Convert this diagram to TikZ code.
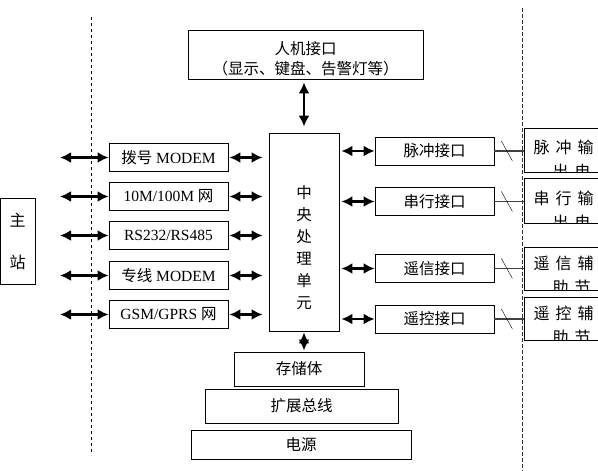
\documentclass[tikz,border=0pt]{standalone}
\usepackage{fontspec}
\setmainfont{Liberation Serif}
\newfontfamily\cjk{Noto Sans CJK SC}
\usetikzlibrary{arrows.meta}

\tikzset{
  box/.style={draw, line width=0.8pt, rectangle, inner sep=0pt},
  zh/.style={font=\cjk\fontsize{15.5}{18}\selectfont},
  link/.style={<->, line width=2.5pt},
  tie/.style={line width=1.8pt, black!75},
  outtext/.style={anchor=west, font=\cjk\fontsize{16}{19}\selectfont},
}

\begin{document}
\begin{tikzpicture}[x=1pt, y=-1pt, >={Latex[length=11pt,width=11pt]},
  every node/.style={font=\fontsize{15.5}{18}\selectfont}]
  \clip (0,0) rectangle (598,471);
  % --- Skillelinjer ---
  \draw[dashed, line width=0.7pt] (91,17) -- (91,455);
  \draw[dash pattern=on 4pt off 2pt, line width=0.7pt, black!80] (522,8) -- (522,471);

  % --- Hovedstasjon ---
  \node[box, minimum width=35, minimum height=86, align=center, font=\cjk\fontsize{16}{18}\selectfont]
    (zz) at (17.5,241) {主\\[24pt]站};

  % --- Kommunikasjon (venstre) ---
  \node[box, minimum width=119, minimum height=28] (c1) at (168.5,157.5) {{\cjk 拨号} MODEM};
  \node[box, minimum width=119, minimum height=28] (c2) at (168.5,196.5) {10M/100M {\cjk 网}};
  \node[box, minimum width=119, minimum height=28] (c3) at (168.5,235.5) {RS232/RS485};
  \node[box, minimum width=119, minimum height=28] (c4) at (168.5,275.5) {{\cjk 专线} MODEM};
  \node[box, minimum width=119, minimum height=28] (c5) at (168.5,314.5) {GSM/GPRS {\cjk 网}};
  \coordinate (e1) at (60,157.5);
  \coordinate (e2) at (60,196.5);
  \coordinate (e3) at (60,235.5);
  \coordinate (e4) at (60,275.5);
  \coordinate (e5) at (60,314.5);

  % --- CPU ---
  \node[box, minimum width=70, minimum height=198] (cpu) at (304,232) {};
  \node[align=center, font=\cjk\fontsize{15.5}{22}\selectfont] (cput) at (304,248) {中\\央\\处\\理\\单\\元};

  % --- Menneske-maskin ---
  \node[box, minimum width=235, minimum height=49] (hmi) at (305.5,54.5) {};
  \node[align=center, font=\cjk\fontsize{15.5}{20}\selectfont] (hmit) at (305.5,59) {人机接口\\（显示、键盘、告警灯等）};

  % --- Grensesnitt (hoyre) ---
  \node[box, zh, minimum width=119, minimum height=28] (p1) at (434.5,151) {脉冲接口};
  \node[box, zh, minimum width=119, minimum height=28] (p2) at (434.5,201.5) {串行接口};
  \node[box, zh, minimum width=119, minimum height=28] (p3) at (434.5,268.5) {遥信接口};
  \node[box, zh, minimum width=119, minimum height=28] (p4) at (434.5,319) {遥控接口};

  % --- Utganger ---
  \node[box, minimum width=96, minimum height=44] (o1) at (572,150) {};
  \node[box, minimum width=96, minimum height=45] (o2) at (572,200.5) {};
  \node[box, minimum width=96, minimum height=43] (o3) at (572,268.5) {};
  \node[box, minimum width=96, minimum height=43] (o4) at (572,318.5) {};
  \begin{scope}
    \clip (o1.north west) rectangle (o1.south east);
    \node[outtext] (o1a) at (530,147) {脉\hspace{6pt}冲\hspace{6pt}输};
    \node[outtext] (o1b) at (549,171) {出\hspace{6pt}电};
  \end{scope}
  \begin{scope}
    \clip (o2.north west) rectangle (o2.south east);
    \node[outtext] (o2a) at (530,198) {串\hspace{6pt}行\hspace{6pt}输};
    \node[outtext] (o2b) at (549,222) {出\hspace{6pt}电};
  \end{scope}
  \begin{scope}
    \clip (o3.north west) rectangle (o3.south east);
    \node[outtext] (o3a) at (530,263) {遥\hspace{6pt}信\hspace{6pt}辅};
    \node[outtext] (o3b) at (549,287) {助\hspace{6pt}节};
  \end{scope}
  \begin{scope}
    \clip (o4.north west) rectangle (o4.south east);
    \node[outtext] (o4a) at (530,313) {遥\hspace{6pt}控\hspace{6pt}辅};
    \node[outtext] (o4b) at (549,337) {助\hspace{6pt}节};
  \end{scope}

  % --- Nederst ---
  \node[box, zh, minimum width=130, minimum height=34] (mem) at (299,369) {存储体};
  \node[box, zh, minimum width=193, minimum height=34] (bus) at (301.5,406) {扩展总线};
  \node[box, zh, minimum width=220, minimum height=29] (pwr) at (301,444.5) {电源};

  % --- Piler ---
  \draw[link] (e1) -- (c1);
  \draw[link] (e2) -- (c2);
  \draw[link] (e3) -- (c3);
  \draw[link] (e4) -- (c4);
  \draw[link] (e5) -- (c5);
  \draw[link, shorten <=1pt, shorten >=6pt] (c1.east) -- (c1.east -| cpu.west);
  \draw[link, shorten <=1pt, shorten >=6pt] (c2.east) -- (c2.east -| cpu.west);
  \draw[link, shorten <=1pt, shorten >=6pt] (c3.east) -- (c3.east -| cpu.west);
  \draw[link, shorten <=1pt, shorten >=6pt] (c4.east) -- (c4.east -| cpu.west);
  \draw[link, shorten <=1pt, shorten >=6pt] (c5.east) -- (c5.east -| cpu.west);
  \draw[link, shorten <=2pt] (p1.west -| cpu.east) -- (p1.west);
  \draw[link, shorten <=2pt] (p2.west -| cpu.east) -- (p2.west);
  \draw[link, shorten <=2pt] (p3.west -| cpu.east) -- (p3.west);
  \draw[link, shorten <=2pt] (p4.west -| cpu.east) -- (p4.west);
  \draw[link, shorten <=3pt, shorten >=6pt] (hmi.south -| cpu.north) -- (cpu.north);
  \draw[link, shorten <=1pt, shorten >=1pt] (cpu.south) -- (cpu.south |- mem.north);

  % --- Til utganger ---
  \draw[tie] (p1.east) -- (p1.east -| o1.west);
  \draw[tie] (p2.east) -- (p2.east -| o2.west);
  \draw[tie] (p3.east) -- (p3.east -| o3.west);
  \draw[tie] (p4.east) -- (p4.east -| o4.west);
  \draw ([shift={(7,-10)}]p1.east) -- ++(11,20);
  \draw ([shift={(7,-10)}]p2.east) -- ++(11,20);
  \draw ([shift={(7,-10)}]p3.east) -- ++(11,20);
  \draw ([shift={(7,-10)}]p4.east) -- ++(11,20);
\end{tikzpicture}
\end{document}
